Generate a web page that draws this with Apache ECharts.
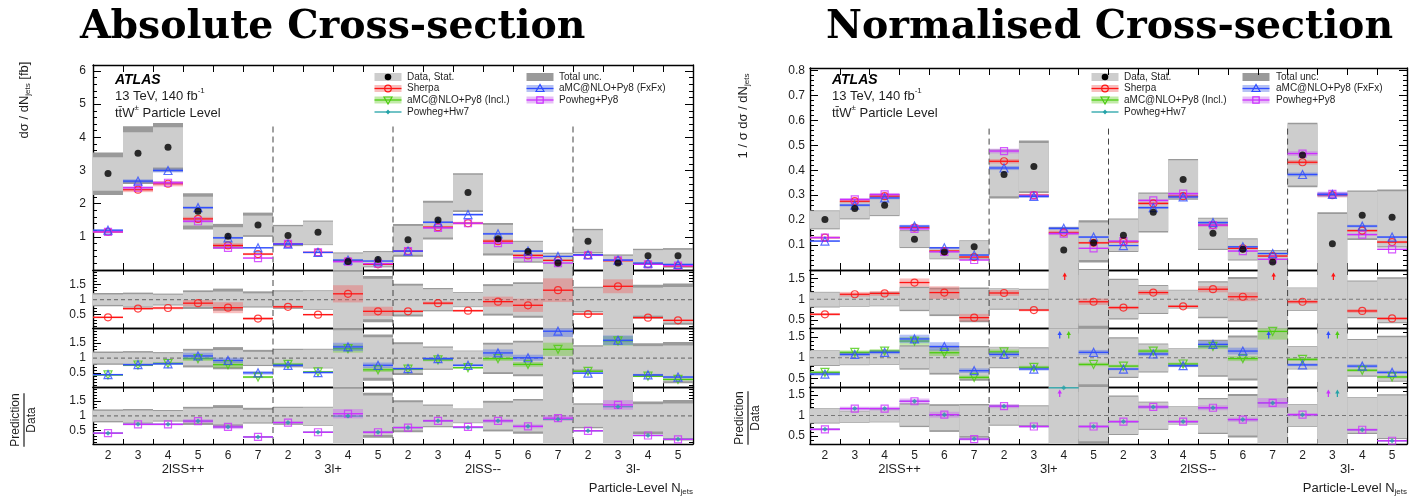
<!DOCTYPE html>
<html>
<head>
<meta charset="utf-8">
<script src="https://cdn.jsdelivr.net/npm/echarts@6.0.0/dist/echarts.min.js"></script>
<style>
html,body{margin:0;padding:0;background:#ffffff;}
#chart{width:1409px;height:496px;}
</style>
</head>
<body>
<div id="chart"></div>
<script>
// ---------------- categories / labels ----------------
const nJetLabels = ['2','3','4','5','6','7','2','3','4','5','2','3','4','5','6','7','2','3','4','5'];
const regionNames = ['2lSS++','3l+','2lSS--','3l-'];
const regionSizes = [6,4,6,4];
const absTickLabels = ['1','2','3','4','5','6'];
const normTickLabels = ['0.1','0.2','0.3','0.4','0.5','0.6','0.7','0.8'];
const ratioTickLabels = ['0.5','1','1.5'];
const legendLabels = ['Data, Stat.','Sherpa','aMC@NLO+Py8 (Incl.)','Powheg+Hw7','Total unc.','aMC@NLO+Py8 (FxFx)','Powheg+Py8'];

// ---------------- Absolute cross-section (fb) ----------------
const absData    = [2.91,3.52,3.70,1.77,1.02,1.36,1.04,1.14,0.26,0.32,0.91,1.51,2.34,0.94,0.56,0.21,0.87,0.21,0.43,0.43];
const absStatLo  = [2.39,2.70,3.09,1.34,0.72,1.05,0.76,0.77,0.00,0.11,0.46,0.98,1.80,0.50,0.26,0.00,0.54,0.00,0.20,0.10];
const absStatHi  = [3.40,4.15,4.30,2.21,1.29,1.64,1.32,1.46,0.50,0.54,1.33,2.03,2.87,1.36,0.85,0.49,1.20,0.43,0.60,0.61];
const absTotLo   = [2.26,2.59,2.97,1.22,0.64,1.00,0.72,0.75,0.00,0.08,0.40,0.92,1.75,0.44,0.22,0.00,0.50,0.00,0.16,0.07];
const absTotHi   = [3.54,4.33,4.43,2.31,1.39,1.73,1.36,1.49,0.53,0.57,1.39,2.09,2.92,1.42,0.88,0.52,1.24,0.47,0.64,0.66];
const absSherpa  = [1.15,2.42,2.60,1.54,0.74,0.48,0.79,0.53,0.27,0.17,0.57,1.29,1.41,0.87,0.44,0.29,0.45,0.28,0.18,0.12];
const absFxFx    = [1.20,2.68,3.00,1.88,0.97,0.67,0.78,0.53,0.30,0.27,0.57,1.44,1.67,1.09,0.57,0.41,0.46,0.30,0.21,0.17];
const absPowPy8  = [1.15,2.48,2.63,1.47,0.67,0.36,0.79,0.53,0.25,0.19,0.57,1.27,1.41,0.81,0.37,0.21,0.44,0.29,0.17,0.13];
// band half-widths (relative) as seen in the main panel
const absSherpaBandMain = [0.03,0.03,0.03,0.04,0.09,0.07,0.03,0.03,0.10,0.10,0.03,0.03,0.03,0.06,0.09,0.10,0.03,0.08,0.05,0.06];
const absFxFxBandMain   = [0.02,0.02,0.02,0.02,0.03,0.03,0.02,0.02,0.05,0.05,0.02,0.02,0.02,0.03,0.04,0.05,0.02,0.05,0.04,0.05];
const absPowBandMain    = [0.02,0.02,0.02,0.03,0.04,0.04,0.02,0.02,0.06,0.06,0.02,0.02,0.02,0.03,0.04,0.05,0.02,0.05,0.04,0.05];
// band half-widths (relative) as seen in the ratio panels
const absSherpaUnc = [0.08,0.06,0.06,0.12,0.25,0.12,0.05,0.06,0.24,0.25,0.06,0.06,0.06,0.18,0.27,0.30,0.05,0.16,0.08,0.10];
const absFxFxUnc   = [0.06,0.05,0.05,0.10,0.10,0.12,0.06,0.06,0.10,0.12,0.05,0.05,0.05,0.10,0.10,0.10,0.06,0.10,0.08,0.10];
const absInclUnc   = [0.06,0.05,0.05,0.08,0.14,0.10,0.06,0.06,0.10,0.12,0.05,0.05,0.05,0.08,0.10,0.17,0.06,0.10,0.08,0.10];
const absPowUnc    = [0.05,0.05,0.05,0.08,0.12,0.08,0.05,0.05,0.15,0.10,0.05,0.05,0.05,0.08,0.10,0.10,0.05,0.12,0.05,0.08];
const absRatioSherpa = [0.41,0.70,0.72,0.88,0.73,0.37,0.76,0.50,1.19,0.61,0.61,0.88,0.63,0.93,0.81,1.31,0.52,1.44,0.40,0.31];
const absRatioFxFx   = [0.45,0.78,0.81,1.07,0.92,0.51,0.76,0.52,1.37,0.76,0.65,0.98,0.76,1.17,1.01,1.89,0.50,1.59,0.44,0.37];
const absRatioIncl   = [0.44,0.77,0.82,0.98,0.78,0.37,0.79,0.54,1.31,0.61,0.63,0.94,0.68,0.98,0.79,1.29,0.56,1.57,0.40,0.29];
const absRatioPowPy8 = [0.41,0.71,0.71,0.82,0.62,0.28,0.77,0.44,1.07,0.44,0.60,0.83,0.62,0.83,0.64,0.92,0.49,1.37,0.33,0.20];
const absRatioPowHw7 = [0.41,0.71,0.71,0.82,0.62,0.28,0.77,0.44,0.99,0.44,0.60,0.83,0.60,0.83,0.64,0.88,0.49,1.31,0.33,0.20];

// ---------------- Normalised cross-section ----------------
const normData   = [0.203,0.247,0.260,0.123,0.072,0.093,0.383,0.415,0.080,0.109,0.139,0.232,0.363,0.147,0.083,0.032,0.461,0.105,0.220,0.212];
const normStatLo = [0.167,0.207,0.220,0.092,0.046,0.046,0.296,0.316,0.000,0.040,0.076,0.156,0.287,0.085,0.042,0.000,0.339,0.000,0.127,0.095];
const normStatHi = [0.236,0.272,0.300,0.156,0.089,0.116,0.479,0.509,0.169,0.190,0.203,0.306,0.440,0.206,0.123,0.076,0.584,0.225,0.314,0.316];
const normTotLo  = [0.163,0.203,0.216,0.088,0.043,0.042,0.287,0.309,0.000,0.030,0.072,0.150,0.282,0.080,0.038,0.000,0.332,0.000,0.120,0.090];
const normTotHi  = [0.239,0.276,0.304,0.160,0.092,0.119,0.483,0.519,0.172,0.199,0.207,0.311,0.445,0.210,0.127,0.080,0.590,0.232,0.319,0.323];
const normSherpa = [0.130,0.276,0.296,0.170,0.076,0.052,0.436,0.300,0.150,0.109,0.113,0.267,0.296,0.180,0.087,0.056,0.432,0.300,0.158,0.112];
const normFxFx   = [0.116,0.260,0.289,0.176,0.089,0.060,0.409,0.295,0.167,0.132,0.098,0.250,0.293,0.190,0.093,0.066,0.383,0.303,0.176,0.132];
const normPowPy8 = [0.130,0.283,0.303,0.165,0.073,0.040,0.477,0.298,0.146,0.087,0.116,0.279,0.306,0.180,0.076,0.043,0.467,0.305,0.142,0.083];
const normSherpaBandMain = [0.03,0.02,0.02,0.03,0.06,0.08,0.02,0.02,0.05,0.04,0.03,0.02,0.02,0.03,0.05,0.06,0.02,0.03,0.03,0.04];
const normFxFxBandMain   = [0.03,0.02,0.02,0.03,0.04,0.05,0.02,0.02,0.04,0.03,0.02,0.02,0.02,0.03,0.04,0.05,0.02,0.03,0.03,0.03];
const normPowBandMain    = [0.03,0.02,0.02,0.03,0.04,0.05,0.02,0.02,0.04,0.03,0.02,0.02,0.02,0.03,0.04,0.05,0.02,0.03,0.03,0.03];
const normSherpaUnc = [0.05,0.05,0.05,0.07,0.13,0.16,0.06,0.04,0.10,0.08,0.05,0.05,0.04,0.06,0.10,0.10,0.05,0.10,0.06,0.06];
const normFxFxUnc   = [0.06,0.04,0.04,0.07,0.08,0.08,0.05,0.05,0.10,0.05,0.04,0.04,0.04,0.06,0.07,0.10,0.04,0.10,0.05,0.06];
const normInclUnc   = [0.06,0.04,0.04,0.07,0.07,0.08,0.05,0.05,0.10,0.05,0.04,0.04,0.04,0.05,0.06,0.12,0.04,0.10,0.05,0.06];
const normPowUnc    = [0.05,0.04,0.04,0.05,0.07,0.08,0.04,0.04,0.10,0.05,0.04,0.04,0.04,0.05,0.06,0.09,0.04,0.08,0.05,0.06];
const normRatioSherpa = [0.64,1.12,1.14,1.40,1.16,0.56,1.15,0.74,1.90,0.94,0.80,1.16,0.83,1.24,1.06,1.80,0.94,2.90,0.72,0.54];
const normRatioFxFx   = [0.61,1.08,1.13,1.45,1.27,0.69,1.08,0.73,2.10,1.13,0.73,1.09,0.81,1.32,1.16,2.05,0.83,2.90,0.80,0.65];
const normRatioIncl   = [0.65,1.13,1.16,1.40,1.12,0.53,1.14,0.77,2.00,0.84,0.80,1.16,0.85,1.27,0.98,1.63,0.96,2.80,0.70,0.54];
const normRatioPowPy8 = [0.66,1.17,1.17,1.35,1.02,0.42,1.23,0.73,1.80,0.73,0.85,1.21,0.85,1.19,0.90,1.31,1.02,2.90,0.65,0.38];
const normRatioPowHw7 = [0.66,1.17,1.17,1.35,1.02,0.42,1.23,0.73,1.68,0.73,0.85,1.21,0.85,1.19,0.90,1.31,1.02,2.80,0.65,0.38];

// ---------------- styling ----------------
const FONT = "'Liberation Sans', Arial, Helvetica, sans-serif";
const INK = '#1e1e1e';
const C = {
  sherpa:'#ff1414', sherpaBand:'rgba(238,100,100,0.42)',
  fxfx:'#2f4dff', fxfxBand:'rgba(80,110,230,0.42)',
  incl:'#4ccc10', inclBand:'rgba(110,205,50,0.42)',
  powpy8:'#cc2eff', powpy8Band:'rgba(195,100,235,0.42)',
  powhw7:'#25a3a8',
  stat:'#cdcdcd', tot:'#9a9a9a'
};

const mctx = document.createElement('canvas').getContext('2d');
function tw(t, font){ mctx.font = font; return mctx.measureText(t).width; }

const regionEdges = [];
const regionStarts = [];
(function(){ let s = 0; regionSizes.forEach((n,k)=>{ regionStarts.push(s); s += n; if (k < regionSizes.length-1) regionEdges.push(s); }); })();

const grids = [], xAxes = [], yAxes = [], series = [];
const NB = nJetLabels.length;

function tickFormatter(list){
  return function(v){
    for (const t of list) { if (Math.abs(parseFloat(t) - v) < 1e-6) return t; }
    return '';
  };
}

function addGrid(left, top, width, height, ymin, ymax, yExtra, labels, isMain, labelMargin) {
  const g = grids.length;
  grids.push({left, top, width, height, outerBoundsMode:'none', containLabel:false});
  const axLine = {show:true, onZero:false, lineStyle:{color:'#000', width:1.4}};
  const xt = {show:true, inside:true, length:isMain?7:5, lineStyle:{color:'#000', width:1}};
  const xb = {gridIndex:g, type:'value', min:0, max:NB, interval:1, axisLine:axLine, axisTick:xt, axisLabel:{show:false}, splitLine:{show:false}};
  xAxes.push(Object.assign({}, xb, {position:'bottom'}));
  xAxes.push(Object.assign({}, xb, {position:'top'}));
  const yb = Object.assign({gridIndex:g, type:'value', min:ymin, max:ymax, axisLine:axLine,
    axisTick:{show:true, inside:true, length:8, lineStyle:{color:'#000', width:1}},
    minorTick:{show:true, splitNumber:5, length:4, lineStyle:{color:'#000', width:1}},
    splitLine:{show:false}, minorSplitLine:{show:false}}, yExtra);
  yAxes.push(Object.assign({}, yb, {position:'left', axisLabel:{show:true, fontSize:12, color:INK, fontFamily:FONT, margin:labelMargin, formatter:tickFormatter(labels)}}));
  yAxes.push(Object.assign({}, yb, {position:'right', axisLabel:{show:false}}));
  return g;
}

function renderBox(params, api) {
  const cs = params.coordSys;
  const i = api.value(0);
  const box = {x:cs.x, y:cs.y, width:cs.width, height:cs.height};
  const mk = (lo, hi) => {
    const a = api.coord([i, hi]), b = api.coord([i+1, lo]);
    return echarts.graphic.clipRectByRect({x:a[0], y:a[1], width:b[0]-a[0], height:b[1]-a[1]}, box);
  };
  const t = mk(api.value(1), api.value(2)), s = mk(api.value(3), api.value(4));
  const ch = [];
  if (t) ch.push({type:'rect', shape:t, style:{fill:C.tot}});
  if (s) ch.push({type:'rect', shape:s, style:{fill:C.stat}});
  return {type:'group', children:ch};
}

function boxSeries(g, rows) {
  return {type:'custom', coordinateSystem:'cartesian2d', xAxisIndex:2*g, yAxisIndex:2*g, z:1, silent:true, animation:false, data:rows, renderItem:renderBox};
}

function predSeries(g, vals, unc, color, band, dx) {
  return {type:'custom', coordinateSystem:'cartesian2d', xAxisIndex:2*g, yAxisIndex:2*g, z:3, silent:true, animation:false,
    data: vals.map((v,i)=>[i, v, unc ? unc[i] : 0]),
    renderItem: function(params, api){
      const cs = params.coordSys;
      const i = api.value(0), v = api.value(1), u = api.value(2);
      const a = api.coord([i, v]), b = api.coord([i+1, v]);
      const ch = [];
      if (a[1] < cs.y - 0.5) {
        const cx = (a[0]+b[0])/2 + dx, yT = cs.y + 3, yB = cs.y + 10;
        ch.push({type:'line', shape:{x1:cx, y1:yB, x2:cx, y2:yT+3}, style:{stroke:color, lineWidth:1.2}});
        ch.push({type:'polygon', shape:{points:[[cx, yT-0.5],[cx-2.2, yT+3.5],[cx+2.2, yT+3.5]]}, style:{fill:color}});
        return {type:'group', children:ch};
      }
      if (u > 0 && band) {
        const h = api.coord([i, v*(1+u)]), l = api.coord([i+1, v*(1-u)]);
        const r = echarts.graphic.clipRectByRect({x:h[0], y:h[1], width:l[0]-h[0], height:l[1]-h[1]}, {x:cs.x, y:cs.y, width:cs.width, height:cs.height});
        if (r) ch.push({type:'rect', shape:r, style:{fill:band}});
      }
      if (a[1] <= cs.y + cs.height) ch.push({type:'line', shape:{x1:a[0], y1:a[1], x2:b[0], y2:b[1]}, style:{stroke:color, lineWidth:1.3}});
      return {type:'group', children:ch};
    }};
}

function markerSeries(g, vals, sym, size, color, rotate, filled, z) {
  return {type:'scatter', xAxisIndex:2*g, yAxisIndex:2*g, z:z||4, silent:true, animation:false, clip:true,
    symbol:sym, symbolSize:size, symbolRotate:rotate||0,
    itemStyle: filled ? {color:color, borderWidth:0} : {color:'rgba(255,255,255,0)', borderColor:color, borderWidth:1.2},
    emphasis:{disabled:true},
    data: vals.map((v,i)=>[i+0.5, v])};
}

function sepSeries(g, topFrac) {
  return {type:'custom', coordinateSystem:'cartesian2d', xAxisIndex:2*g, yAxisIndex:2*g, z:2, silent:true, animation:false,
    data: regionEdges.map(e=>[e, 0]),
    renderItem: function(params, api){
      const cs = params.coordSys;
      const x = api.coord([api.value(0), 0])[0];
      return {type:'line', shape:{x1:x, y1:cs.y + topFrac*cs.height, x2:x, y2:cs.y + cs.height}, style:{stroke:'#444', lineWidth:1, lineDash:[6,4]}};
    }};
}

function refSeries(g) {
  return {type:'custom', coordinateSystem:'cartesian2d', xAxisIndex:2*g, yAxisIndex:2*g, z:2, silent:true, animation:false,
    data: [[0, 1]],
    renderItem: function(params, api){
      const a = api.coord([0, api.value(1)]), b = api.coord([NB, api.value(1)]);
      return {type:'line', shape:{x1:a[0], y1:a[1], x2:b[0], y2:b[1]}, style:{stroke:'#777', lineWidth:1.2, lineDash:[4,3]}};
    }};
}

function regionSeries(g) {
  return {type:'custom', coordinateSystem:'cartesian2d', xAxisIndex:2*g, yAxisIndex:2*g, z:2, silent:true, animation:false,
    data: regionNames.map((n,k)=>[regionStarts[k] + regionSizes[k]/2, 1, k]),
    renderItem: function(params, api){
      const cs = params.coordSys;
      const x = api.coord([api.value(0), 1])[0];
      return {type:'text', x:x, y:cs.y + cs.height + 25, style:{text:regionNames[api.value(2)], font:'13px ' + FONT, fill:INK, align:'center', verticalAlign:'middle', textAlign:'center', textVerticalAlign:'middle'}};
    }};
}

const rows = [[270, 328.5],[328.5, 387],[387, 444]];
const figs = [
  {left:93, width:600, mainTop:65, yMax:6.18, yExtra:{interval:1}, ticks:absTickLabels, rMin:0.04, rMax:1.98, margin:7,
   data:absData, sLo:absStatLo, sHi:absStatHi, tLo:absTotLo, tHi:absTotHi,
   sherpa:absSherpa, fxfx:absFxFx, pow:absPowPy8,
   bS:absSherpaBandMain, bF:absFxFxBandMain, bP:absPowBandMain,
   uS:absSherpaUnc, uF:absFxFxUnc, uI:absInclUnc, uP:absPowUnc,
   rS:absRatioSherpa, rF:absRatioFxFx, rI:absRatioIncl, rP:absRatioPowPy8, rH:absRatioPowHw7},
  {left:810, width:597, mainTop:68, yMax:0.81, yExtra:{interval:0.1}, ticks:normTickLabels, rMin:0.3, rMax:1.7, margin:5,
   data:normData, sLo:normStatLo, sHi:normStatHi, tLo:normTotLo, tHi:normTotHi,
   sherpa:normSherpa, fxfx:normFxFx, pow:normPowPy8,
   bS:normSherpaBandMain, bF:normFxFxBandMain, bP:normPowBandMain,
   uS:normSherpaUnc, uF:normFxFxUnc, uI:normInclUnc, uP:normPowUnc,
   rS:normRatioSherpa, rF:normRatioFxFx, rI:normRatioIncl, rP:normRatioPowPy8, rH:normRatioPowHw7}
];

const catAxes = [];
figs.forEach(f => {
  const gm = addGrid(f.left, f.mainTop, f.width, 270 - f.mainTop, 0, f.yMax, f.yExtra, f.ticks, true, f.margin);
  series.push(boxSeries(gm, f.data.map((d,i)=>[i, f.tLo[i], f.tHi[i], f.sLo[i], f.sHi[i]])));
  series.push(sepSeries(gm, 0.3));
  series.push(predSeries(gm, f.sherpa, f.bS, C.sherpa, C.sherpaBand, 0));
  series.push(predSeries(gm, f.pow, f.bP, C.powpy8, C.powpy8Band, 0));
  series.push(predSeries(gm, f.fxfx, f.bF, C.fxfx, C.fxfxBand, 0));
  series.push(markerSeries(gm, f.sherpa, 'circle', 7, C.sherpa));
  series.push(markerSeries(gm, f.pow, 'rect', 7, C.powpy8));
  series.push(markerSeries(gm, f.fxfx, 'triangle', 8, C.fxfx));
  series.push(markerSeries(gm, f.data, 'circle', 7, '#000', 0, true, 5));

  const relRows = f.data.map((d,i)=>[i, f.tLo[i]/d, f.tHi[i]/d, f.sLo[i]/d, f.sHi[i]/d]);
  const rExtra = {minInterval:0.5, maxInterval:0.5};
  rows.forEach((r, k) => {
    const g = addGrid(f.left, r[0], f.width, r[1]-r[0], f.rMin, f.rMax, rExtra, ratioTickLabels, false, f.margin);
    series.push(boxSeries(g, relRows));
    series.push(refSeries(g));
    series.push(sepSeries(g, 0));
    if (k === 0) {
      series.push(predSeries(g, f.rS, f.uS, C.sherpa, C.sherpaBand, 1));
      series.push(markerSeries(g, f.rS, 'circle', 7, C.sherpa));
    } else if (k === 1) {
      series.push(predSeries(g, f.rI, f.uI, C.incl, C.inclBand, 5));
      series.push(predSeries(g, f.rF, f.uF, C.fxfx, C.fxfxBand, -4));
      series.push(markerSeries(g, f.rI, 'triangle', 8, C.incl, 180));
      series.push(markerSeries(g, f.rF, 'triangle', 8, C.fxfx));
    } else {
      series.push(predSeries(g, f.rH, null, C.powhw7, null, 5));
      series.push(predSeries(g, f.rP, f.uP, C.powpy8, C.powpy8Band, -4));
      series.push(markerSeries(g, f.rP, 'rect', 7, C.powpy8));
      series.push(markerSeries(g, f.rH, 'diamond', 5, C.powhw7, 0, true));
      series.push(regionSeries(g));
      catAxes.push({gridIndex:g, type:'category', data:nJetLabels, position:'bottom',
        axisLine:{show:false, onZero:false}, axisTick:{show:false},
        axisLabel:{show:true, interval:0, fontSize:12, color:INK, fontFamily:FONT, margin:6}, splitLine:{show:false}});
    }
  });
});
catAxes.forEach(a => xAxes.push(a));

// ---------------- graphic texts ----------------
const graphics = [];
function txt(x, y, text, font, align, fill) {
  return {type:'text', x:x, y:y, style:{text:text, font:font, fill:fill||INK, align:align||'left', verticalAlign:'middle', textAlign:align||'left', textVerticalAlign:'middle'}};
}
function richGroup(x, y, pieces, align, rotation) {
  let total = 0;
  const ws = pieces.map(p => { const w = tw(p.t, p.font); total += w; return w; });
  let cx = align === 'center' ? -total/2 : (align === 'right' ? -total : 0);
  const ch = [];
  pieces.forEach((p,k) => { ch.push(txt(cx, p.dy||0, p.t, p.font, 'left', p.fill)); cx += ws[k]; });
  return {type:'group', x:x, y:y, rotation:rotation||0, children:ch};
}

const TF = "bold 40px 'DejaVu Serif'";
const titleSize = 40 * 505 / tw('Absolute Cross-section', TF);
graphics.push(txt(80, 28, 'Absolute Cross-section', "bold " + titleSize.toFixed(1) + "px 'DejaVu Serif'", 'left', '#000'));
graphics.push(txt(826, 28, 'Normalised Cross-section', "bold " + titleSize.toFixed(1) + "px 'DejaVu Serif'", 'left', '#000'));

const f13 = '13px ' + FONT, f8 = '8px ' + FONT;
[115, 832].forEach(x0 => {
  graphics.push(txt(x0, 80, 'ATLAS', 'italic bold 14px ' + FONT, 'left', '#000'));
  graphics.push(richGroup(x0, 96, [{t:'13 TeV, 140 fb', font:f13},{t:'-1', font:f8, dy:-5}], 'left'));
  graphics.push(richGroup(x0, 113, [{t:'tt\u0304W', font:f13},{t:'\u00b1', font:f8, dy:-5},{t:' Particle Level', font:f13}], 'left'));
});

graphics.push(richGroup(24, 100, [{t:'d\u03c3 / dN', font:f13},{t:'jets', font:f8, dy:4},{t:' [fb]', font:f13}], 'center', Math.PI/2));
graphics.push(richGroup(743, 116, [{t:'1 / \u03c3 d\u03c3 / dN', font:f13},{t:'jets', font:f8, dy:4}], 'center', Math.PI/2));
[[24, 420],[748, 418]].forEach(p => {
  const w = tw('Prediction', '12px ' + FONT);
  graphics.push({type:'group', x:p[0], y:p[1], rotation:Math.PI/2, children:[
    txt(0, -8, 'Prediction', '12px ' + FONT, 'center'),
    {type:'line', shape:{x1:-w/2, y1:0, x2:w/2, y2:0}, style:{stroke:INK, lineWidth:1.2}},
    txt(0, 8, 'Data', '12px ' + FONT, 'center')
  ]});
});
[693, 1407].forEach(xe => {
  graphics.push(richGroup(xe, 488, [{t:'Particle-Level N', font:f13},{t:'jets', font:f8, dy:4}], 'right'));
});

function marker(kind, cx, cy, color) {
  const st = {fill:'rgba(0,0,0,0)', stroke:color, lineWidth:1.2};
  if (kind === 'circle') return {type:'circle', shape:{cx:cx, cy:cy, r:3.3}, style:st};
  if (kind === 'up') return {type:'polygon', shape:{points:[[cx,cy-4],[cx-4,cy+3],[cx+4,cy+3]]}, style:st};
  if (kind === 'down') return {type:'polygon', shape:{points:[[cx,cy+4],[cx-4,cy-3],[cx+4,cy-3]]}, style:st};
  if (kind === 'square') return {type:'rect', shape:{x:cx-3.2, y:cy-3.2, width:6.4, height:6.4}, style:st};
  return {type:'polygon', shape:{points:[[cx,cy-2.6],[cx-2.2,cy],[cx,cy+2.6],[cx+2.2,cy]]}, style:{fill:color}};
}
function legendEntry(cx, cy, tx, kind, label, color, band, mk) {
  const w = 27, ch = [];
  if (kind === 'data') {
    ch.push({type:'rect', shape:{x:cx-w/2, y:cy-4, width:w, height:8}, style:{fill:C.stat}});
    ch.push({type:'circle', shape:{cx:cx, cy:cy, r:3.3}, style:{fill:'#000'}});
  } else if (kind === 'tot') {
    ch.push({type:'rect', shape:{x:cx-w/2, y:cy-4, width:w, height:8}, style:{fill:C.tot}});
  } else {
    if (band) ch.push({type:'rect', shape:{x:cx-w/2, y:cy-3.5, width:w, height:7}, style:{fill:band}});
    ch.push({type:'line', shape:{x1:cx-w/2, y1:cy, x2:cx+w/2, y2:cy}, style:{stroke:color, lineWidth:1.3}});
    ch.push(marker(mk, cx, cy, color));
  }
  ch.push(txt(tx, cy, label, '10px ' + FONT, 'left'));
  return {type:'group', children:ch};
}
[[388, 407, 540, 559],[1105, 1124, 1256, 1276]].forEach(L => {
  const ys = [77, 88.5, 100, 112];
  graphics.push(legendEntry(L[0], ys[0], L[1], 'data', legendLabels[0]));
  graphics.push(legendEntry(L[0], ys[1], L[1], 'pred', legendLabels[1], C.sherpa, C.sherpaBand, 'circle'));
  graphics.push(legendEntry(L[0], ys[2], L[1], 'pred', legendLabels[2], C.incl, C.inclBand, 'down'));
  graphics.push(legendEntry(L[0], ys[3], L[1], 'pred', legendLabels[3], C.powhw7, null, 'diamond'));
  graphics.push(legendEntry(L[2], ys[0], L[3], 'tot', legendLabels[4]));
  graphics.push(legendEntry(L[2], ys[1], L[3], 'pred', legendLabels[5], C.fxfx, C.fxfxBand, 'up'));
  graphics.push(legendEntry(L[2], ys[2], L[3], 'pred', legendLabels[6], C.powpy8, C.powpy8Band, 'square'));
});

const chart = echarts.init(document.getElementById('chart'), null, {renderer:'canvas', width:1409, height:496});
chart.setOption({
  animation:false,
  backgroundColor:'#ffffff',
  textStyle:{fontFamily:FONT},
  grid:grids, xAxis:xAxes, yAxis:yAxes, series:series,
  graphic:{elements:graphics}
});
</script>
</body>
</html>
